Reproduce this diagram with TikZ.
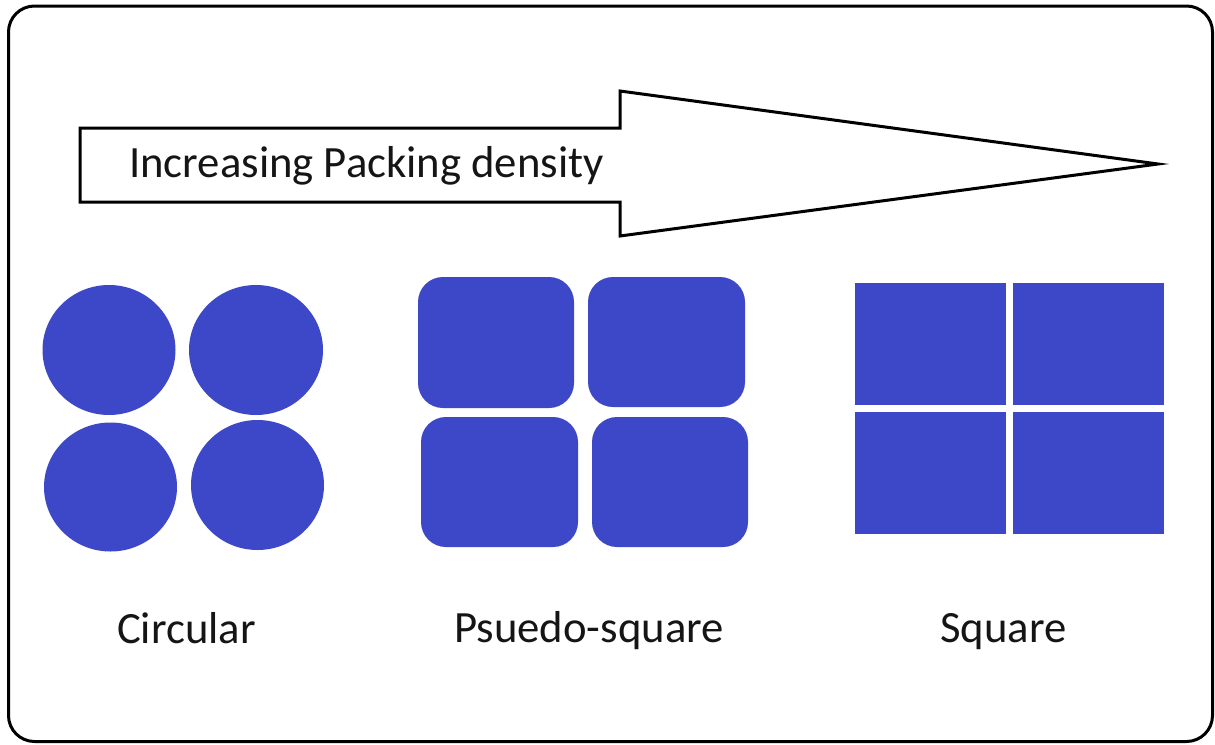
\documentclass[tikz,border=0pt]{standalone}
\usepackage{fontspec}
\setmainfont{Carlito}
\definecolor{cellblue}{HTML}{3D48C8}
\definecolor{textdark}{HTML}{151515}
\tikzset{
  frame/.style={draw=black, line width=3pt, rounded corners=26pt},
  bigarrow/.style={draw=black, line width=3pt, fill=white, line join=miter},
  dot/.style={fill=cellblue},
  cell/.style={fill=cellblue},
  label/.style={font=\fontsize{44.7}{52}\selectfont, text=textdark, inner sep=0pt},
}
\begin{document}
\begin{tikzpicture}[x=1pt,y=-1pt]
\useasboundingbox (0,0) rectangle (1215,744);
\fill[white] (0,0) rectangle (1215,744);
% outer frame
\draw[frame] (8.5,6) rectangle (1212.5,741.5);
% big arrow
\draw[bigarrow] (80,128) -- (620,128) -- (620,91) -- (1158,164) -- (620,236) -- (620,202) -- (80,202) -- cycle;
\node[label, anchor=base west] (title) at (129,177) {Increasing Packing density};
% circles
\fill[dot] (109,350) ellipse (66.5pt and 65pt);
\fill[dot] (256,350) ellipse (67pt and 65pt);
\fill[dot] (110.5,487) ellipse (66.5pt and 64.5pt);
\fill[dot] (257.5,485) ellipse (66.5pt and 65pt);
% rounded squares
\fill[cell, rounded corners=25pt] (418,277) rectangle (574,408);
\fill[cell, rounded corners=25pt] (588,277) rectangle (745,407);
\fill[cell, rounded corners=25pt] (421,417) rectangle (578,547);
\fill[cell, rounded corners=25pt] (592,417) rectangle (748,547);
% squares
\fill[cell] (855,283) rectangle (1005.5,405);
\fill[cell] (1012.5,283) rectangle (1163.5,405);
\fill[cell] (855,412) rectangle (1005.5,534);
\fill[cell] (1012.5,412) rectangle (1163.5,534);
% labels
\node[label, anchor=base] (lc) at (186.5,643) {Circular};
\node[label, anchor=base] (lp) at (589,642) {Psuedo-square};
\node[label, anchor=base] (ls) at (1003.5,642) {Square};
\end{tikzpicture}
\end{document}
